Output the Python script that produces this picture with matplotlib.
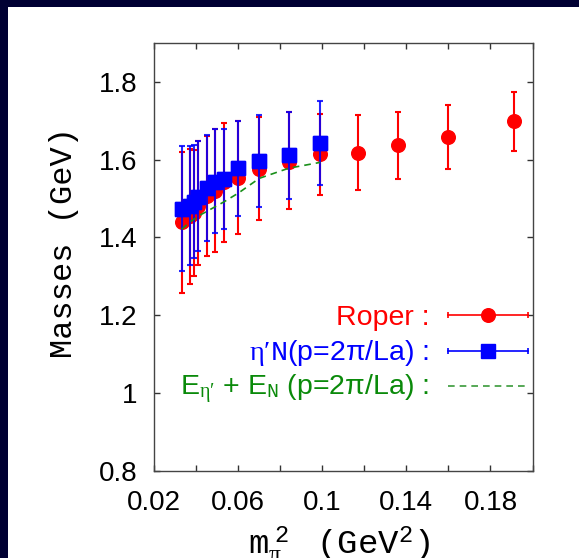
import numpy as np
import matplotlib
matplotlib.use("Agg")
import matplotlib.pyplot as plt
from matplotlib.patches import Rectangle
from matplotlib.lines import Line2D

plt.rcParams['font.family'] = ['Liberation Sans', 'DejaVu Sans']
plt.rcParams['mathtext.fontset'] = 'custom'
plt.rcParams['mathtext.rm'] = 'Liberation Mono'
plt.rcParams['mathtext.it'] = 'Liberation Serif'
plt.rcParams['mathtext.sf'] = 'Liberation Serif'
plt.rcParams['mathtext.tt'] = 'Liberation Mono'

# Roper
x_roper = [0.033, 0.037, 0.039, 0.041, 0.045, 0.049, 0.053, 0.060, 0.070,
           0.084, 0.099, 0.117, 0.136, 0.160, 0.191]
m_roper = [1.439, 1.456, 1.463, 1.480, 1.507, 1.520, 1.543, 1.554, 1.577,
           1.593, 1.614, 1.618, 1.637, 1.657, 1.700]
hi_roper = [1.620, 1.628, 1.625, 1.649, 1.661, 1.680, 1.693, 1.700, 1.710,
            1.722, 1.717, 1.714, 1.723, 1.740, 1.775]
lo_roper = [1.256, 1.279, 1.300, 1.329, 1.352, 1.363, 1.388, 1.409, 1.445,
            1.472, 1.510, 1.523, 1.550, 1.576, 1.622]

# eta' N (p = 2 pi / La)
x_etaN = [0.033, 0.037, 0.039, 0.041, 0.045, 0.049, 0.053, 0.060, 0.070,
          0.084, 0.099]
m_etaN = [1.473, 1.481, 1.492, 1.505, 1.528, 1.543, 1.551, 1.579, 1.597,
          1.613, 1.643]
hi_etaN = [1.635, 1.635, 1.637, 1.649, 1.663, 1.678, 1.680, 1.700, 1.715,
           1.722, 1.751]
lo_etaN = [1.314, 1.328, 1.346, 1.364, 1.392, 1.411, 1.421, 1.456, 1.477,
           1.500, 1.535]

# E_eta' + E_N
e_sum = [1.421, 1.440, 1.447, 1.455, 1.467, 1.479, 1.491, 1.514, 1.552,
         1.578, 1.593]

x_ticks = [0.02, 0.04, 0.06, 0.08, 0.1, 0.12, 0.14, 0.16, 0.18, 0.2]
x_ticklabels = ["0.02", "", "0.06", "", "0.1", "", "0.14", "", "0.18", ""]
y_ticks = [0.8, 1.0, 1.2, 1.4, 1.6, 1.8]
y_ticklabels = ["0.8", "1", "1.2", "1.4", "1.6", "1.8"]

W, H = 579, 558
fig = plt.figure(figsize=(W / 100, H / 100), dpi=100, facecolor="#000033")
fig.patches.append(Rectangle((8 / W, 0), 1, 1 - 7 / H, transform=fig.transFigure,
                             facecolor="white", edgecolor="none", zorder=-10))

ax = fig.add_axes([154.3 / W, 1 - 470.7 / H, 378.2 / W, 427.7 / H])
ax.set_zorder(2)
ax.set_xlim(0.02, 0.2)
ax.set_ylim(0.8, 1.9)

m = np.array(m_roper)
ax.errorbar(x_roper, m_roper, yerr=[m - np.array(lo_roper), np.array(hi_roper) - m],
            fmt="o", color="red", ms=9.8, elinewidth=1.5, capsize=2.5,
            capthick=1.5, zorder=3)
m = np.array(m_etaN)
ax.errorbar(x_etaN, m_etaN, yerr=[m - np.array(lo_etaN), np.array(hi_etaN) - m],
            fmt="s", color="blue", ms=10.2, elinewidth=1.5, capsize=2.5,
            capthick=1.5, alpha=0.85, zorder=4)
ax.plot(x_etaN, m_etaN, "s", color="blue", ms=10.2, zorder=5)
ax.plot(x_etaN, e_sum, color="#1a8f1a", lw=1.2, dashes=(4, 3), zorder=6)

ax.set_xticks(x_ticks)
ax.set_xticklabels(x_ticklabels)
ax.set_yticks(y_ticks)
ax.set_yticklabels(y_ticklabels)
ax.tick_params(direction="in", length=4, width=1, top=True, right=True,
               labelsize=20, color="#333333")
ax.tick_params(axis="x", pad=14)
ax.tick_params(axis="y", pad=12)
for s in ax.spines.values():
    s.set_color("#444444")
    s.set_linewidth(1)

fig.text(64 / W, 1 - 242 / H, "Masses (GeV)", rotation=90, ha="center",
         va="center", fontsize=23, family="Liberation Mono")
fig.text(339 / W, 1 - 553 / H,
         r"$\mathrm{m}_{\pi}^{\ 2}\ \ \ \mathrm{(GeV}^{2}\mathrm{)}$",
         ha="center", va="baseline", fontsize=24.5)

# key
rows = [
    ("Roper :", "red", "red", "o", "-"),
    (r"$\eta\mathsf{\prime}\mathrm{N}$(p=2π/La) :", "blue", "blue", "s", "-"),
    (r"E$_{\eta\mathsf{\prime}}$ + E$_{\mathrm{N}}$ (p=2π/La) :", "#0a8a0a",
     "#3a9a3a", None, "--"),
]
row_y = [315, 350.5, 385.5]
for (lab, tc, lc, mk, ls), py in zip(rows, row_y):
    yy = (470.7 - py) / 427.7
    ax.text(0.727, yy - 10 / 427.7, lab, color=tc, fontsize=20.5, ha="right",
            va="baseline", transform=ax.transAxes)
    x0, x1 = (448 - 154.3) / 378.2, (528 - 154.3) / 378.2
    if ls == "--":
        ax.add_line(Line2D([x0, x1], [yy, yy], color=lc, lw=1.2, dashes=(4, 3),
                           transform=ax.transAxes))
    else:
        ax.add_line(Line2D([x0, x1], [yy, yy], color=lc, lw=1.2,
                           transform=ax.transAxes))
        ax.add_line(Line2D([x0, x1], [yy, yy], color=lc, ls="none", marker="|",
                           ms=5, mew=1.2, transform=ax.transAxes))
        ax.add_line(Line2D([(x0 + x1) / 2], [yy], color=lc, ls="none", marker=mk,
                           ms=10 if mk == "s" else 9.8, transform=ax.transAxes))

fig.savefig("out.png", dpi=100, facecolor=fig.get_facecolor())
